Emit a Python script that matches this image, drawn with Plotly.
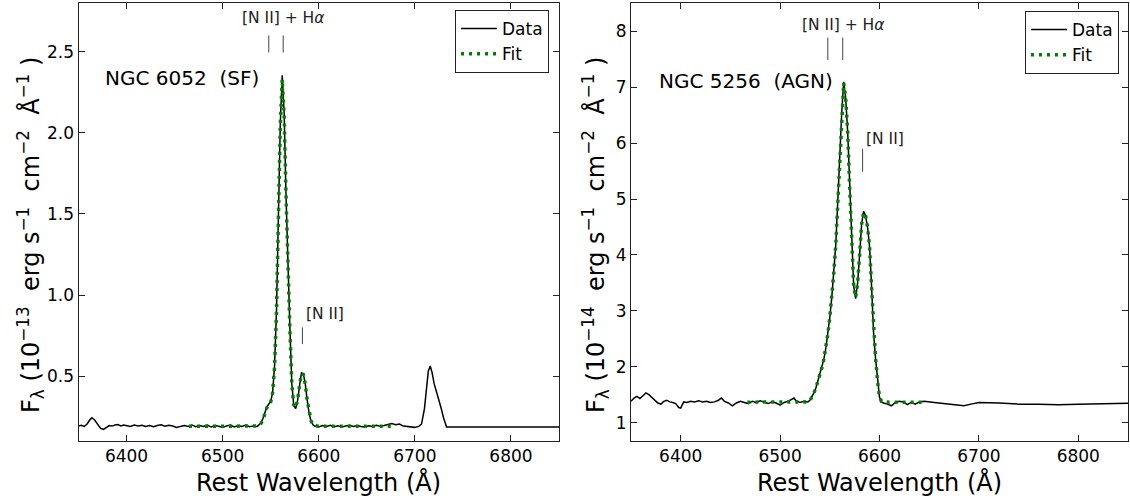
import plotly.graph_objects as go

# ---------------- data: NGC 6052 (SF) ----------------
wl_6052 = [6350, 6353, 6356, 6359, 6362, 6364, 6367, 6370, 6373, 6376, 6379, 6382, 6385, 6388, 6391,
           6394, 6397, 6400, 6404, 6408, 6412, 6416, 6420, 6424, 6428, 6432, 6436, 6440, 6444, 6448,
           6452, 6456, 6460, 6464, 6468, 6472, 6476, 6480, 6484, 6488, 6492, 6496, 6500, 6504, 6508,
           6512, 6516, 6520, 6524, 6528, 6532, 6536, 6538, 6540, 6542, 6544, 6546, 6548, 6550, 6552,
           6554, 6556, 6558, 6560, 6562, 6564, 6566, 6568, 6570, 6572, 6574, 6576, 6578, 6580, 6582,
           6584, 6586, 6588, 6590, 6592, 6594, 6596, 6600, 6604, 6608, 6612, 6616, 6620, 6624, 6628,
           6632, 6636, 6640, 6644, 6648, 6652, 6656, 6660, 6664, 6668, 6672, 6676, 6680, 6684, 6688,
           6692, 6696, 6700, 6704, 6707, 6710, 6712, 6714, 6716, 6718, 6720, 6722, 6724, 6727, 6730,
           6733, 6850]
flux_6052 = [0.192, 0.197, 0.190, 0.205, 0.232, 0.243, 0.228, 0.200, 0.178, 0.172, 0.184, 0.195, 0.192, 0.199, 0.201,
             0.193, 0.198, 0.196, 0.190, 0.198, 0.193, 0.197, 0.190, 0.195, 0.188, 0.196, 0.200, 0.191, 0.197, 0.192,
             0.183, 0.190, 0.196, 0.190, 0.199, 0.188, 0.196, 0.190, 0.198, 0.186, 0.195, 0.191, 0.184, 0.193, 0.198,
             0.187, 0.195, 0.190, 0.198, 0.188, 0.192, 0.190, 0.200, 0.212, 0.240, 0.280, 0.310, 0.328, 0.342, 0.400,
             0.560, 0.900, 1.500, 2.060, 2.355, 2.120, 1.600, 1.150, 0.790, 0.450, 0.320, 0.300, 0.350, 0.440, 0.520,
             0.515, 0.450, 0.350, 0.270, 0.222, 0.200, 0.192, 0.186, 0.195, 0.190, 0.197, 0.188, 0.194, 0.186, 0.192,
             0.197, 0.189, 0.195, 0.190, 0.186, 0.194, 0.190, 0.197, 0.191, 0.196, 0.200, 0.208, 0.200, 0.204, 0.192,
             0.188, 0.186, 0.184, 0.190, 0.205, 0.300, 0.430, 0.530, 0.563, 0.520, 0.455, 0.415, 0.380, 0.310, 0.240,
             0.186, 0.186]
fit_wl_6052 = [6465, 6475, 6485, 6495, 6505, 6515, 6525, 6535, 6538, 6540, 6542, 6544, 6546, 6548, 6550,
               6552, 6554, 6556, 6558, 6560, 6562, 6564, 6566, 6568, 6570, 6572, 6574, 6576, 6578, 6580,
               6582, 6584, 6586, 6588, 6590, 6592, 6594, 6596, 6600, 6610, 6620, 6630, 6640, 6650, 6660,
               6670, 6676]
fit_flux_6052 = [0.191, 0.191, 0.191, 0.191, 0.191, 0.191, 0.191, 0.192, 0.198, 0.208, 0.232, 0.272, 0.305, 0.325, 0.340,
                 0.398, 0.555, 0.895, 1.490, 2.050, 2.330, 2.110, 1.600, 1.140, 0.780, 0.450, 0.322, 0.305, 0.352, 0.440,
                 0.515, 0.510, 0.448, 0.350, 0.272, 0.225, 0.202, 0.194, 0.191, 0.191, 0.191, 0.191, 0.191, 0.191, 0.191,
                 0.191, 0.191]

# ---------------- data: NGC 5256 (AGN) ----------------
wl_5256 = [6350, 6353, 6356, 6359, 6362, 6365, 6368, 6371, 6374, 6377, 6380, 6383, 6386, 6389, 6392,
           6395, 6398, 6400, 6403, 6406, 6410, 6414, 6418, 6422, 6426, 6430, 6434, 6438, 6441, 6444,
           6448, 6452, 6456, 6460, 6464, 6468, 6472, 6476, 6480, 6484, 6488, 6492, 6496, 6500, 6504,
           6508, 6512, 6514, 6516, 6520, 6524, 6528, 6530, 6532, 6534, 6536, 6538, 6540, 6542, 6544,
           6546, 6548, 6550, 6552, 6554, 6556, 6558, 6560, 6562, 6564, 6566, 6568, 6570, 6572, 6574,
           6576, 6578, 6580, 6582, 6584, 6586, 6588, 6590, 6592, 6594, 6596, 6598, 6600, 6602, 6604,
           6608, 6612, 6616, 6620, 6624, 6628, 6632, 6636, 6640, 6645, 6655, 6665, 6675, 6685, 6692,
           6700, 6720, 6740, 6760, 6780, 6800, 6820, 6850]
flux_5256 = [1.38, 1.44, 1.47, 1.43, 1.48, 1.53, 1.50, 1.45, 1.39, 1.35, 1.33, 1.38, 1.40, 1.37, 1.36,
             1.34, 1.27, 1.26, 1.37, 1.36, 1.38, 1.37, 1.39, 1.37, 1.38, 1.36, 1.37, 1.40, 1.44, 1.38,
             1.35, 1.30, 1.35, 1.38, 1.36, 1.34, 1.38, 1.36, 1.39, 1.37, 1.34, 1.37, 1.35, 1.31, 1.36,
             1.38, 1.42, 1.44, 1.39, 1.36, 1.38, 1.37, 1.40, 1.46, 1.53, 1.62, 1.74, 1.85, 1.98, 2.13,
             2.33, 2.58, 2.88, 3.24, 3.68, 4.18, 4.95, 5.80, 6.55, 7.10, 6.80, 6.20, 5.20, 4.20, 3.45,
             3.22, 3.50, 4.00, 4.55, 4.78, 4.70, 4.50, 4.15, 3.45, 2.62, 2.15, 1.75, 1.45, 1.37, 1.35,
             1.33, 1.30, 1.36, 1.38, 1.37, 1.32, 1.36, 1.33, 1.37, 1.38, 1.36, 1.34, 1.32, 1.30, 1.33,
             1.36, 1.35, 1.33, 1.33, 1.32, 1.33, 1.34, 1.345]
fit_wl_5256 = [6467, 6477, 6487, 6497, 6507, 6517, 6527, 6530, 6532, 6534, 6536, 6538, 6540, 6542, 6544,
               6546, 6548, 6550, 6552, 6554, 6556, 6558, 6560, 6562, 6564, 6566, 6568, 6570, 6572, 6574,
               6576, 6578, 6580, 6582, 6584, 6586, 6588, 6590, 6592, 6594, 6596, 6598, 6600, 6602, 6610,
               6620, 6630, 6640, 6646]
fit_flux_5256 = [1.365, 1.365, 1.365, 1.365, 1.365, 1.366, 1.37, 1.39, 1.45, 1.53, 1.62, 1.73, 1.85, 1.98, 2.13,
                 2.33, 2.58, 2.88, 3.24, 3.68, 4.18, 4.95, 5.80, 6.55, 7.08, 6.80, 6.20, 5.20, 4.20, 3.45,
                 3.24, 3.50, 4.00, 4.55, 4.76, 4.70, 4.50, 4.15, 3.45, 2.62, 2.15, 1.75, 1.46, 1.38, 1.365,
                 1.365, 1.365, 1.365, 1.365]

# annotation marks (wavelengths)
blend_marks = [6548, 6563]
nii_mark = 6583

x_ticks = [6400, 6500, 6600, 6700, 6800]
y_ticks_6052 = [0.5, 1.0, 1.5, 2.0, 2.5]
y_ticks_5256 = [1, 2, 3, 4, 5, 6, 7, 8]

FONT = "DejaVu Sans"
GREEN = "#008000"
FIT_DASH = "3px,5px,3px,5px"

fig = go.Figure()

fig.add_trace(go.Scatter(x=wl_6052, y=flux_6052, mode="lines", name="Data",
                         line=dict(color="black", width=1.5), xaxis="x", yaxis="y", legend="legend"))
fig.add_trace(go.Scatter(x=fit_wl_6052, y=fit_flux_6052, mode="lines", name="Fit",
                         line=dict(color=GREEN, width=3.5, dash=FIT_DASH), xaxis="x", yaxis="y",
                         legend="legend"))
fig.add_trace(go.Scatter(x=wl_5256, y=flux_5256, mode="lines", name="Data",
                         line=dict(color="black", width=1.5), xaxis="x2", yaxis="y2", legend="legend2"))
fig.add_trace(go.Scatter(x=fit_wl_5256, y=fit_flux_5256, mode="lines", name="Fit",
                         line=dict(color=GREEN, width=3.5, dash=FIT_DASH), xaxis="x2", yaxis="y2",
                         legend="legend2"))

W, H = 1130, 500
ydom = [59 / H, 497 / H]

axis_common = dict(showline=True, linecolor="#222", linewidth=1, mirror="ticks", ticks="inside",
                   ticklen=6, tickcolor="#222", showgrid=False, zeroline=False,
                   tickfont=dict(family=FONT, size=17, color="black"))

fig.update_layout(
    width=W, height=H, margin=dict(l=0, r=0, t=0, b=0),
    paper_bgcolor="white", plot_bgcolor="white",
    font=dict(family=FONT, color="black"),
    xaxis=dict(domain=[78.5 / W, 559 / W], range=[6350, 6850], tickvals=x_ticks, anchor="y", **axis_common),
    yaxis=dict(domain=ydom, range=[0.1, 2.8], tickvals=y_ticks_6052, tickformat=".1f", anchor="x",
               **axis_common),
    xaxis2=dict(domain=[631 / W, 1128 / W], range=[6350, 6850], tickvals=x_ticks, anchor="y2", **axis_common),
    yaxis2=dict(domain=ydom, range=[0.67, 8.51], tickvals=y_ticks_5256, anchor="x2", **axis_common),
    legend=dict(x=549 / W, y=1 - 10 / H, xanchor="right", yanchor="top", bgcolor="white",
                bordercolor="#222", borderwidth=1, font=dict(family=FONT, size=17), itemwidth=36),
    legend2=dict(x=1119 / W, y=1 - 11 / H, xanchor="right", yanchor="top", bgcolor="white",
                 bordercolor="#222", borderwidth=1, font=dict(family=FONT, size=17), itemwidth=36),
    showlegend=True,
)

shapes = []
annots = []
# left panel marks
for wl in blend_marks:
    shapes.append(dict(type="line", xref="x", yref="y", x0=wl, x1=wl, y0=2.495, y1=2.600,
                       line=dict(color="#444", width=1)))
shapes.append(dict(type="line", xref="x", yref="y", x0=nii_mark, x1=nii_mark, y0=0.697, y1=0.80,
                   line=dict(color="#444", width=1)))
# right panel marks
for wl in blend_marks:
    shapes.append(dict(type="line", xref="x2", yref="y2", x0=wl, x1=wl, y0=7.49, y1=7.89,
                       line=dict(color="#444", width=1)))
shapes.append(dict(type="line", xref="x2", yref="y2", x0=nii_mark, x1=nii_mark, y0=5.49, y1=5.90,
                   line=dict(color="#444", width=1)))

annots.append(dict(xref="x", yref="y", x=6563, y=2.71, text="[N II] + H<i>α</i>", showarrow=False,
                   font=dict(family=FONT, size=15.5, color="#222"), xanchor="center", yanchor="middle"))
annots.append(dict(xref="x", yref="y", x=6585, y=0.88, text="[N II]", showarrow=False,
                   font=dict(family=FONT, size=15.5, color="#222"), xanchor="left", yanchor="middle"))
annots.append(dict(xref="x", yref="y", x=6376, y=2.335, text="NGC 6052\u00a0\u00a0(SF)", showarrow=False,
                   font=dict(family=FONT, size=20, color="black"), xanchor="left", yanchor="middle"))
annots.append(dict(xref="x2", yref="y2", x=6563, y=8.12, text="[N II] + H<i>α</i>", showarrow=False,
                   font=dict(family=FONT, size=15.5, color="#222"), xanchor="center", yanchor="middle"))
annots.append(dict(xref="x2", yref="y2", x=6584, y=6.07, text="[N II]", showarrow=False,
                   font=dict(family=FONT, size=15.5, color="#222"), xanchor="left", yanchor="middle"))
annots.append(dict(xref="x2", yref="y2", x=6376, y=7.12, text="NGC 5256\u00a0\u00a0(AGN)", showarrow=False,
                   font=dict(family=FONT, size=20, color="black"), xanchor="left", yanchor="middle"))

# axis titles as annotations
xt = "Rest Wavelength (Å)"
annots.append(dict(xref="paper", yref="paper", x=(78.5 + 559) / 2 / W, y=1 - 482 / H, text=xt,
                   showarrow=False, font=dict(family=FONT, size=24), xanchor="center", yanchor="middle"))
annots.append(dict(xref="paper", yref="paper", x=(631 + 1128) / 2 / W, y=1 - 482 / H, text=xt,
                   showarrow=False, font=dict(family=FONT, size=24), xanchor="center", yanchor="middle"))
sp = "\u00a0"
yt1 = ("F<sub>λ</sub>" + sp + "(10<sup>−13</sup>" + sp * 2 + "erg" + sp + "s<sup>−1</sup>" + sp * 2 +
       "cm<sup>−2</sup>" + sp * 2 + "Å<sup>−1</sup>" + sp + ")")
yt2 = ("F<sub>λ</sub>" + sp + "(10<sup>−14</sup>" + sp * 2 + "erg" + sp + "s<sup>−1</sup>" + sp * 2 +
       "cm<sup>−2</sup>" + sp * 2 + "Å<sup>−1</sup>" + sp + ")")
annots.append(dict(xref="paper", yref="paper", x=30 / W, y=1 - 235 / H, text=yt1, textangle=-90,
                   showarrow=False, font=dict(family=FONT, size=24), xanchor="center", yanchor="middle"))
annots.append(dict(xref="paper", yref="paper", x=595 / W, y=1 - 235 / H, text=yt2, textangle=-90,
                   showarrow=False, font=dict(family=FONT, size=24), xanchor="center", yanchor="middle"))

fig.update_layout(shapes=shapes, annotations=annots)

fig.write_html("out.html")
